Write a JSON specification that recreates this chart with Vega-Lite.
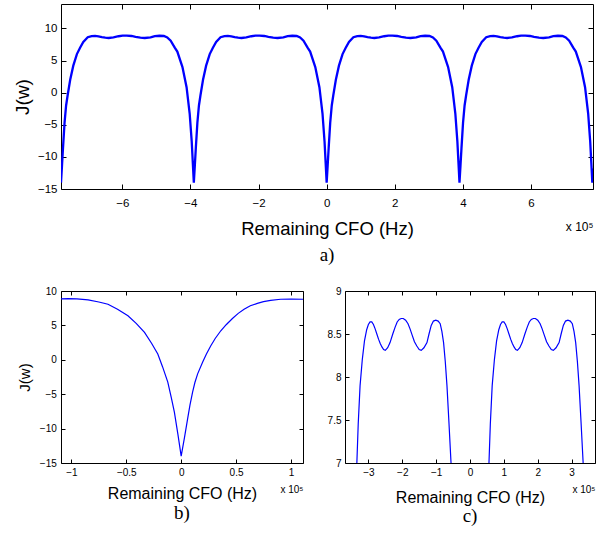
{
"$schema": "https://vega.github.io/schema/vega-lite/v6.json",
"background": "white",
"padding": {"left": 12, "top": 3, "right": 2, "bottom": 2},
"config": {
 "view": {"stroke": "black", "strokeWidth": 1},
 "axis": {"domain": false, "grid": false, "tickColor": "black", "tickWidth": 1, "tickOpacity": 1, "labelColor": "black", "titleColor": "black", "labelFont": "Liberation Sans", "titleFont": "Liberation Sans", "titleFontWeight": "normal", "labelFlush": false, "labelOverlap": false},
 "title": {"font": "Liberation Serif", "fontWeight": "normal", "color": "black", "fontSize": 19}
},
"datasets": {
 "a": [
  {"cfo": -7.8, "J": -14.0}, {"cfo": -7.77, "J": -11.3}, {"cfo": -7.741, "J": -8.6}, {"cfo": -7.696, "J": -4.7}, {"cfo": -7.65, "J": -2.0}, {"cfo": -7.605, "J": -0.4}, {"cfo": -7.53, "J": 2.0}, {"cfo": -7.439, "J": 4.2}, {"cfo": -7.333, "J": 6.0}, {"cfo": -7.24, "J": 7.0}, {"cfo": -7.145, "J": 7.9}, {"cfo": -7.015, "J": 8.62}, {"cfo": -6.9, "J": 8.81}, {"cfo": -6.8, "J": 8.84}, {"cfo": -6.7, "J": 8.76}, {"cfo": -6.6, "J": 8.64}, {"cfo": -6.5, "J": 8.55}, {"cfo": -6.4, "J": 8.51}, {"cfo": -6.26, "J": 8.6}, {"cfo": -6.11, "J": 8.78}, {"cfo": -5.99, "J": 8.87}, {"cfo": -5.87, "J": 8.88}, {"cfo": -5.73, "J": 8.82}, {"cfo": -5.61, "J": 8.69}, {"cfo": -5.47, "J": 8.56}, {"cfo": -5.34, "J": 8.51}, {"cfo": -5.17, "J": 8.6}, {"cfo": -5.045, "J": 8.8}, {"cfo": -4.91, "J": 8.86}, {"cfo": -4.78, "J": 8.82}, {"cfo": -4.68, "J": 8.6}, {"cfo": -4.58, "J": 8.1}, {"cfo": -4.46, "J": 7.0}, {"cfo": -4.385, "J": 6.39}, {"cfo": -4.234, "J": 3.98}, {"cfo": -4.113, "J": 0.85}, {"cfo": -4.022, "J": -3.25}, {"cfo": -3.962, "J": -7.6}, {"cfo": -3.93, "J": -10.9},
  {"cfo": -3.9, "J": -14.0}, {"cfo": -3.87, "J": -11.3}, {"cfo": -3.841, "J": -8.6}, {"cfo": -3.796, "J": -4.7}, {"cfo": -3.75, "J": -2.0}, {"cfo": -3.705, "J": -0.4}, {"cfo": -3.63, "J": 2.0}, {"cfo": -3.539, "J": 4.2}, {"cfo": -3.433, "J": 6.0}, {"cfo": -3.34, "J": 7.0}, {"cfo": -3.245, "J": 7.9}, {"cfo": -3.115, "J": 8.62}, {"cfo": -3.0, "J": 8.81}, {"cfo": -2.9, "J": 8.84}, {"cfo": -2.8, "J": 8.76}, {"cfo": -2.7, "J": 8.64}, {"cfo": -2.6, "J": 8.55}, {"cfo": -2.5, "J": 8.51}, {"cfo": -2.36, "J": 8.6}, {"cfo": -2.21, "J": 8.78}, {"cfo": -2.09, "J": 8.87}, {"cfo": -1.97, "J": 8.88}, {"cfo": -1.83, "J": 8.82}, {"cfo": -1.71, "J": 8.69}, {"cfo": -1.57, "J": 8.56}, {"cfo": -1.44, "J": 8.51}, {"cfo": -1.27, "J": 8.6}, {"cfo": -1.145, "J": 8.8}, {"cfo": -1.01, "J": 8.86}, {"cfo": -0.88, "J": 8.82}, {"cfo": -0.78, "J": 8.6}, {"cfo": -0.68, "J": 8.1}, {"cfo": -0.56, "J": 7.0}, {"cfo": -0.485, "J": 6.39}, {"cfo": -0.334, "J": 3.98}, {"cfo": -0.213, "J": 0.85}, {"cfo": -0.122, "J": -3.25}, {"cfo": -0.062, "J": -7.6}, {"cfo": -0.03, "J": -10.9},
  {"cfo": 0.0, "J": -14.0}, {"cfo": 0.03, "J": -11.3}, {"cfo": 0.059, "J": -8.6}, {"cfo": 0.104, "J": -4.7}, {"cfo": 0.15, "J": -2.0}, {"cfo": 0.195, "J": -0.4}, {"cfo": 0.27, "J": 2.0}, {"cfo": 0.361, "J": 4.2}, {"cfo": 0.467, "J": 6.0}, {"cfo": 0.56, "J": 7.0}, {"cfo": 0.655, "J": 7.9}, {"cfo": 0.785, "J": 8.62}, {"cfo": 0.9, "J": 8.81}, {"cfo": 1.0, "J": 8.84}, {"cfo": 1.1, "J": 8.76}, {"cfo": 1.2, "J": 8.64}, {"cfo": 1.3, "J": 8.55}, {"cfo": 1.4, "J": 8.51}, {"cfo": 1.54, "J": 8.6}, {"cfo": 1.69, "J": 8.78}, {"cfo": 1.81, "J": 8.87}, {"cfo": 1.93, "J": 8.88}, {"cfo": 2.07, "J": 8.82}, {"cfo": 2.19, "J": 8.69}, {"cfo": 2.33, "J": 8.56}, {"cfo": 2.46, "J": 8.51}, {"cfo": 2.63, "J": 8.6}, {"cfo": 2.755, "J": 8.8}, {"cfo": 2.89, "J": 8.86}, {"cfo": 3.02, "J": 8.82}, {"cfo": 3.12, "J": 8.6}, {"cfo": 3.22, "J": 8.1}, {"cfo": 3.34, "J": 7.0}, {"cfo": 3.415, "J": 6.39}, {"cfo": 3.566, "J": 3.98}, {"cfo": 3.687, "J": 0.85}, {"cfo": 3.778, "J": -3.25}, {"cfo": 3.838, "J": -7.6}, {"cfo": 3.87, "J": -10.9},
  {"cfo": 3.9, "J": -14.0}, {"cfo": 3.93, "J": -11.3}, {"cfo": 3.959, "J": -8.6}, {"cfo": 4.004, "J": -4.7}, {"cfo": 4.05, "J": -2.0}, {"cfo": 4.095, "J": -0.4}, {"cfo": 4.17, "J": 2.0}, {"cfo": 4.261, "J": 4.2}, {"cfo": 4.367, "J": 6.0}, {"cfo": 4.46, "J": 7.0}, {"cfo": 4.555, "J": 7.9}, {"cfo": 4.685, "J": 8.62}, {"cfo": 4.8, "J": 8.81}, {"cfo": 4.9, "J": 8.84}, {"cfo": 5.0, "J": 8.76}, {"cfo": 5.1, "J": 8.64}, {"cfo": 5.2, "J": 8.55}, {"cfo": 5.3, "J": 8.51}, {"cfo": 5.44, "J": 8.6}, {"cfo": 5.59, "J": 8.78}, {"cfo": 5.71, "J": 8.87}, {"cfo": 5.83, "J": 8.88}, {"cfo": 5.97, "J": 8.82}, {"cfo": 6.09, "J": 8.69}, {"cfo": 6.23, "J": 8.56}, {"cfo": 6.36, "J": 8.51}, {"cfo": 6.53, "J": 8.6}, {"cfo": 6.655, "J": 8.8}, {"cfo": 6.79, "J": 8.86}, {"cfo": 6.92, "J": 8.82}, {"cfo": 7.02, "J": 8.6}, {"cfo": 7.12, "J": 8.1}, {"cfo": 7.24, "J": 7.0}, {"cfo": 7.315, "J": 6.39}, {"cfo": 7.466, "J": 3.98}, {"cfo": 7.587, "J": 0.85}, {"cfo": 7.678, "J": -3.25}, {"cfo": 7.738, "J": -7.6}, {"cfo": 7.77, "J": -10.9}, {"cfo": 7.8, "J": -14.0}, {"cfo": 7.82, "J": -11.8}
 ],
 "b": [
  {"cfo": -1.1, "J": 8.85}, {"cfo": -1.03, "J": 8.9}, {"cfo": -0.95, "J": 8.85}, {"cfo": -0.848, "J": 8.7}, {"cfo": -0.75, "J": 8.4}, {"cfo": -0.667, "J": 8.07}, {"cfo": -0.58, "J": 7.35}, {"cfo": -0.485, "J": 6.39}, {"cfo": -0.41, "J": 5.3}, {"cfo": -0.334, "J": 3.98}, {"cfo": -0.27, "J": 2.4}, {"cfo": -0.213, "J": 0.85}, {"cfo": -0.17, "J": -1.0}, {"cfo": -0.122, "J": -3.25}, {"cfo": -0.09, "J": -5.5}, {"cfo": -0.062, "J": -7.6}, {"cfo": -0.03, "J": -10.8}, {"cfo": 0.0, "J": -14.0},
  {"cfo": 0.03, "J": -11.3}, {"cfo": 0.059, "J": -8.54}, {"cfo": 0.08, "J": -6.6}, {"cfo": 0.104, "J": -4.7}, {"cfo": 0.125, "J": -3.3}, {"cfo": 0.15, "J": -2.04}, {"cfo": 0.195, "J": -0.36}, {"cfo": 0.23, "J": 0.85}, {"cfo": 0.27, "J": 2.05}, {"cfo": 0.31, "J": 3.1}, {"cfo": 0.361, "J": 4.22}, {"cfo": 0.41, "J": 5.1}, {"cfo": 0.467, "J": 6.0}, {"cfo": 0.52, "J": 6.75}, {"cfo": 0.573, "J": 7.35}, {"cfo": 0.63, "J": 7.85}, {"cfo": 0.694, "J": 8.2}, {"cfo": 0.75, "J": 8.45}, {"cfo": 0.815, "J": 8.65}, {"cfo": 0.906, "J": 8.8}, {"cfo": 1.0, "J": 8.82}, {"cfo": 1.11, "J": 8.8}
 ],
 "c": [
  {"cfo": -3.433, "J": 6.0}, {"cfo": -3.39, "J": 6.5}, {"cfo": -3.34, "J": 7.0}, {"cfo": -3.3, "J": 7.45}, {"cfo": -3.245, "J": 7.9}, {"cfo": -3.18, "J": 8.2}, {"cfo": -3.115, "J": 8.42}, {"cfo": -3.05, "J": 8.55}, {"cfo": -3.0, "J": 8.61}, {"cfo": -2.95, "J": 8.64}, {"cfo": -2.9, "J": 8.64}, {"cfo": -2.85, "J": 8.61}, {"cfo": -2.8, "J": 8.56}, {"cfo": -2.75, "J": 8.5}, {"cfo": -2.7, "J": 8.44}, {"cfo": -2.65, "J": 8.39}, {"cfo": -2.6, "J": 8.35}, {"cfo": -2.55, "J": 8.32}, {"cfo": -2.5, "J": 8.31}, {"cfo": -2.43, "J": 8.34}, {"cfo": -2.36, "J": 8.4}, {"cfo": -2.28, "J": 8.5}, {"cfo": -2.21, "J": 8.58}, {"cfo": -2.15, "J": 8.64}, {"cfo": -2.09, "J": 8.67}, {"cfo": -2.03, "J": 8.68}, {"cfo": -1.97, "J": 8.68}, {"cfo": -1.9, "J": 8.66}, {"cfo": -1.83, "J": 8.62}, {"cfo": -1.77, "J": 8.56}, {"cfo": -1.71, "J": 8.49}, {"cfo": -1.64, "J": 8.41}, {"cfo": -1.57, "J": 8.36}, {"cfo": -1.5, "J": 8.32}, {"cfo": -1.44, "J": 8.31}, {"cfo": -1.36, "J": 8.34}, {"cfo": -1.27, "J": 8.4}, {"cfo": -1.21, "J": 8.5}, {"cfo": -1.145, "J": 8.6}, {"cfo": -1.08, "J": 8.65}, {"cfo": -1.01, "J": 8.66}, {"cfo": -0.94, "J": 8.65}, {"cfo": -0.88, "J": 8.62}, {"cfo": -0.83, "J": 8.53}, {"cfo": -0.78, "J": 8.4}, {"cfo": -0.73, "J": 8.18}, {"cfo": -0.68, "J": 7.9}, {"cfo": -0.62, "J": 7.46}, {"cfo": -0.56, "J": 7.0}, {"cfo": -0.485, "J": 6.39},
  {"cfo": 0.467, "J": 6.0}, {"cfo": 0.51, "J": 6.5}, {"cfo": 0.56, "J": 7.0}, {"cfo": 0.6, "J": 7.45}, {"cfo": 0.655, "J": 7.9}, {"cfo": 0.72, "J": 8.2}, {"cfo": 0.785, "J": 8.42}, {"cfo": 0.85, "J": 8.55}, {"cfo": 0.9, "J": 8.61}, {"cfo": 0.95, "J": 8.64}, {"cfo": 1.0, "J": 8.64}, {"cfo": 1.05, "J": 8.61}, {"cfo": 1.1, "J": 8.56}, {"cfo": 1.15, "J": 8.5}, {"cfo": 1.2, "J": 8.44}, {"cfo": 1.25, "J": 8.39}, {"cfo": 1.3, "J": 8.35}, {"cfo": 1.35, "J": 8.32}, {"cfo": 1.4, "J": 8.31}, {"cfo": 1.47, "J": 8.34}, {"cfo": 1.54, "J": 8.4}, {"cfo": 1.62, "J": 8.5}, {"cfo": 1.69, "J": 8.58}, {"cfo": 1.75, "J": 8.64}, {"cfo": 1.81, "J": 8.67}, {"cfo": 1.87, "J": 8.68}, {"cfo": 1.93, "J": 8.68}, {"cfo": 2.0, "J": 8.66}, {"cfo": 2.07, "J": 8.62}, {"cfo": 2.13, "J": 8.56}, {"cfo": 2.19, "J": 8.49}, {"cfo": 2.26, "J": 8.41}, {"cfo": 2.33, "J": 8.36}, {"cfo": 2.4, "J": 8.32}, {"cfo": 2.46, "J": 8.31}, {"cfo": 2.54, "J": 8.34}, {"cfo": 2.63, "J": 8.4}, {"cfo": 2.69, "J": 8.5}, {"cfo": 2.755, "J": 8.6}, {"cfo": 2.82, "J": 8.65}, {"cfo": 2.89, "J": 8.66}, {"cfo": 2.96, "J": 8.65}, {"cfo": 3.02, "J": 8.62}, {"cfo": 3.07, "J": 8.53}, {"cfo": 3.12, "J": 8.4}, {"cfo": 3.17, "J": 8.18}, {"cfo": 3.22, "J": 7.9}, {"cfo": 3.28, "J": 7.46}, {"cfo": 3.34, "J": 7.0}, {"cfo": 3.415, "J": 6.39}
 ]
},
"bounds": "flush",
"spacing": 102,
"vconcat": [
 {
  "width": 532, "height": 185,
  "data": {"name": "a"},
  "title": {"text": "a)", "orient": "bottom", "offset": 8},
  "layer": [
   {"mark": {"type": "line", "color": "#0000ff", "strokeWidth": 2.3, "clip": true},
    "encoding": {
     "x": {"field": "cfo", "type": "quantitative", "scale": {"domain": [-7.8, 7.82], "nice": false, "zero": false},
           "axis": {"orient": "bottom", "values": [-6, -4, -2, 0, 2, 4, 6], "format": "~g", "title": "Remaining CFO (Hz)", "titleFontSize": 18.5, "labelFontSize": 11.5, "tickSize": -5, "labelPadding": 13.2, "titlePadding": 10.5}},
     "y": {"field": "J", "type": "quantitative", "scale": {"domain": [-15, 13.8], "nice": false, "zero": false},
           "axis": {"orient": "left", "values": [-15, -10, -5, 0, 5, 10], "format": "~g", "title": "J(w)", "titleFontSize": 19, "labelFontSize": 11.5, "tickSize": -5, "labelPadding": 9, "titlePadding": 5}}
    }},
   {"mark": {"type": "line", "opacity": 0, "clip": true},
    "encoding": {
     "x": {"field": "cfo", "type": "quantitative", "scale": {"domain": [-7.8, 7.82], "nice": false, "zero": false},
           "axis": {"orient": "top", "values": [-6, -4, -2, 0, 2, 4, 6], "labels": false, "tickSize": -5, "title": null}},
     "y": {"field": "J", "type": "quantitative", "scale": {"domain": [-15, 13.8], "nice": false, "zero": false},
           "axis": {"orient": "right", "values": [-15, -10, -5, 0, 5, 10], "labels": false, "tickSize": -5, "title": null}}
    }},
   {"mark": {"type": "line", "opacity": 0, "clip": true},
    "encoding": {
     "x": {"field": "cfo", "type": "quantitative", "scale": {"domain": [-7.8, 7.82], "nice": false, "zero": false},
           "axis": {"orient": "bottom", "labels": false, "ticks": false, "title": "x 10⁵", "titleAnchor": "end", "titleFontSize": 12, "titlePadding": 32.5}},
     "y": {"field": "J", "type": "quantitative", "scale": {"domain": [-15, 13.8], "nice": false, "zero": false}, "axis": null}
    }}
  ],
  "resolve": {"axis": {"x": "independent", "y": "independent"}}
 },
 {
  "bounds": "flush",
  "spacing": 42,
  "hconcat": [
   {
    "width": 242, "height": 172,
    "data": {"name": "b"},
    "title": {"text": "b)", "orient": "bottom", "offset": 2},
    "layer": [
     {"mark": {"type": "line", "color": "#0000ff", "strokeWidth": 1.2, "clip": true},
      "encoding": {
       "x": {"field": "cfo", "type": "quantitative", "scale": {"domain": [-1.095, 1.11], "nice": false, "zero": false},
             "axis": {"orient": "bottom", "values": [-1, -0.5, 0, 0.5, 1], "format": "~g", "title": "Remaining CFO (Hz)", "titleFontSize": 16, "labelFontSize": 10, "tickSize": -4, "labelPadding": 8.7, "titlePadding": 8}},
       "y": {"field": "J", "type": "quantitative", "scale": {"domain": [-15, 10], "nice": false, "zero": false},
             "axis": {"orient": "left", "values": [-15, -10, -5, 0, 5, 10], "format": "~g", "title": "J(w)", "titleFontSize": 15, "labelFontSize": 10, "tickSize": -4, "labelPadding": 8.7, "titlePadding": 7}}
      }},
     {"mark": {"type": "line", "opacity": 0, "clip": true},
      "encoding": {
       "x": {"field": "cfo", "type": "quantitative", "scale": {"domain": [-1.095, 1.11], "nice": false, "zero": false},
             "axis": {"orient": "top", "values": [-1, -0.5, 0, 0.5, 1], "labels": false, "tickSize": -4, "title": null}},
       "y": {"field": "J", "type": "quantitative", "scale": {"domain": [-15, 10], "nice": false, "zero": false},
             "axis": {"orient": "right", "values": [-15, -10, -5, 0, 5, 10], "labels": false, "tickSize": -4, "title": null}}
      }},
     {"mark": {"type": "line", "opacity": 0, "clip": true},
      "encoding": {
       "x": {"field": "cfo", "type": "quantitative", "scale": {"domain": [-1.095, 1.11], "nice": false, "zero": false},
             "axis": {"orient": "bottom", "labels": false, "ticks": false, "title": "x 10⁵", "titleAnchor": "end", "titleFontSize": 10, "titlePadding": 21}},
       "y": {"field": "J", "type": "quantitative", "scale": {"domain": [-15, 10], "nice": false, "zero": false}, "axis": null}
      }}
    ],
    "resolve": {"axis": {"x": "independent", "y": "independent"}}
   },
   {
    "width": 250, "height": 172,
    "data": {"name": "c"},
    "title": {"text": "c)", "orient": "bottom", "offset": 2},
    "layer": [
     {"mark": {"type": "line", "color": "#0000ff", "strokeWidth": 1.2, "clip": true},
      "encoding": {
       "x": {"field": "cfo", "type": "quantitative", "scale": {"domain": [-3.69, 3.69], "nice": false, "zero": false},
             "axis": {"orient": "bottom", "values": [-3, -2, -1, 0, 1, 2, 3], "format": "~g", "title": "Remaining CFO (Hz)", "titleFontSize": 16, "labelFontSize": 10, "tickSize": -4, "labelPadding": 8.3, "titlePadding": 12}},
       "y": {"field": "J", "type": "quantitative", "scale": {"domain": [7, 9], "nice": false, "zero": false},
             "axis": {"orient": "left", "values": [7, 7.5, 8, 8.5, 9], "format": "~g", "title": null, "labelFontSize": 10, "tickSize": -4, "labelPadding": 8}}
      }},
     {"mark": {"type": "line", "opacity": 0, "clip": true},
      "encoding": {
       "x": {"field": "cfo", "type": "quantitative", "scale": {"domain": [-3.69, 3.69], "nice": false, "zero": false},
             "axis": {"orient": "top", "values": [-3, -2, -1, 0, 1, 2, 3], "labels": false, "tickSize": -4, "title": null}},
       "y": {"field": "J", "type": "quantitative", "scale": {"domain": [7, 9], "nice": false, "zero": false},
             "axis": {"orient": "right", "values": [7, 7.5, 8, 8.5, 9], "labels": false, "tickSize": -4, "title": null}}
      }},
     {"mark": {"type": "line", "opacity": 0, "clip": true},
      "encoding": {
       "x": {"field": "cfo", "type": "quantitative", "scale": {"domain": [-3.69, 3.69], "nice": false, "zero": false},
             "axis": {"orient": "bottom", "labels": false, "ticks": false, "title": "x 10⁵", "titleAnchor": "end", "titleFontSize": 10, "titlePadding": 21.5}},
       "y": {"field": "J", "type": "quantitative", "scale": {"domain": [7, 9], "nice": false, "zero": false}, "axis": null}
      }}
    ],
    "resolve": {"axis": {"x": "independent", "y": "independent"}}
   }
  ]
 }
]
}
